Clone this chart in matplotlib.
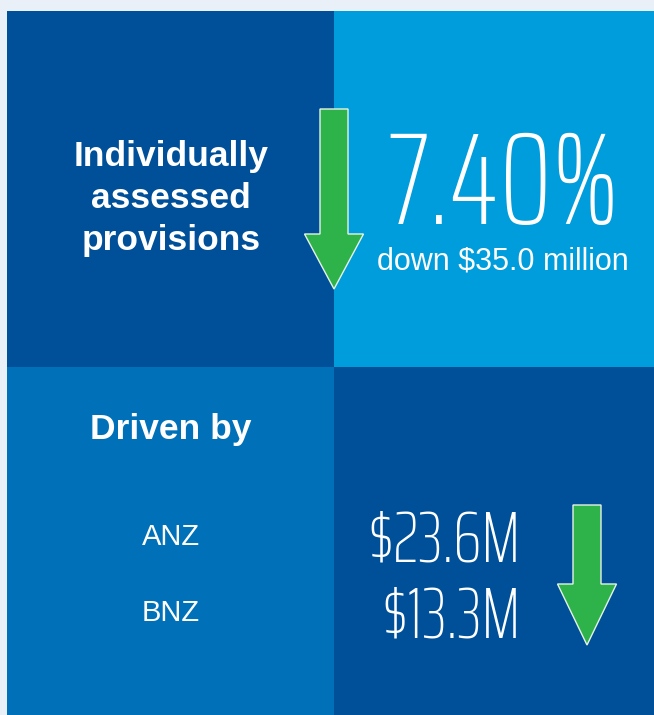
import matplotlib
matplotlib.use("Agg")
import matplotlib.pyplot as plt
from matplotlib.patches import Rectangle, FancyArrow

# infographic content
title_lines = ["Individually", "assessed", "provisions"]
headline_pct = 7.40
change_text = "down $35.0 million"
driver_title = "Driven by"
drivers = ["ANZ", "BNZ"]
driver_values = [23.6, 13.3]  # $M

dark = "#004f99"
light = "#009ddd"
mid = "#0071b9"
green = "#2db34a"

thin_font = ["Saira ExtraCondensed", "Roboto Condensed", "Liberation Sans Narrow", "DejaVu Sans"]
sans_font = ["Liberation Sans", "Arial", "DejaVu Sans"]

W, H = 654, 715
fig = plt.figure(figsize=(W / 100, H / 100), dpi=100)
fig.patch.set_facecolor("#e9f0f7")
ax = fig.add_axes([0, 0, 1, 1])
ax.set_xlim(0, W)
ax.set_ylim(H, 0)
ax.axis("off")

# four panels
ax.add_patch(Rectangle((7, 11), 327, 356, color=dark, lw=0))
ax.add_patch(Rectangle((334, 11), W - 334, 356, color=light, lw=0))
ax.add_patch(Rectangle((7, 367), 327, H - 367, color=mid, lw=0))
ax.add_patch(Rectangle((334, 367), W - 334, H - 367, color=dark, lw=0))

# headings
for i, line in enumerate(title_lines):
    ax.text(171, 166 + i * 42, line, color="white", fontsize=25.5, fontweight="bold",
            family=sans_font, ha="center", va="baseline")
ax.text(171, 439, driver_title, color="white", fontsize=25.5, fontweight="bold",
        family=sans_font, ha="center", va="baseline")

# big figure and change
ax.text(503, 224, "%.2f%%" % headline_pct, color="white", fontsize=95, fontweight=100,
        family=thin_font, ha="center", va="baseline")
ax.text(503, 270, change_text, color="white", fontsize=22,
        family=sans_font, ha="center", va="baseline")

# drivers
for i, (name, val) in enumerate(zip(drivers, driver_values)):
    y = 545 + i * 76
    ax.text(171, y, name, color="white", fontsize=21, family=sans_font,
            ha="center", va="baseline")
    ax.text(521, y + 17, "$%.1fM" % val, color="white", fontsize=52, fontweight=100,
            family=thin_font, ha="right", va="baseline")

# down arrows
for x, y0, y1, hl in [(334, 109, 289, 55), (587, 505, 645, 61)]:
    ax.add_patch(FancyArrow(x, y0, 0, y1 - y0, width=28, head_width=59, head_length=hl,
                            length_includes_head=True, facecolor=green,
                            edgecolor="#e6f2e6", lw=1))

fig.savefig("out.png", dpi=100, facecolor=fig.get_facecolor())
